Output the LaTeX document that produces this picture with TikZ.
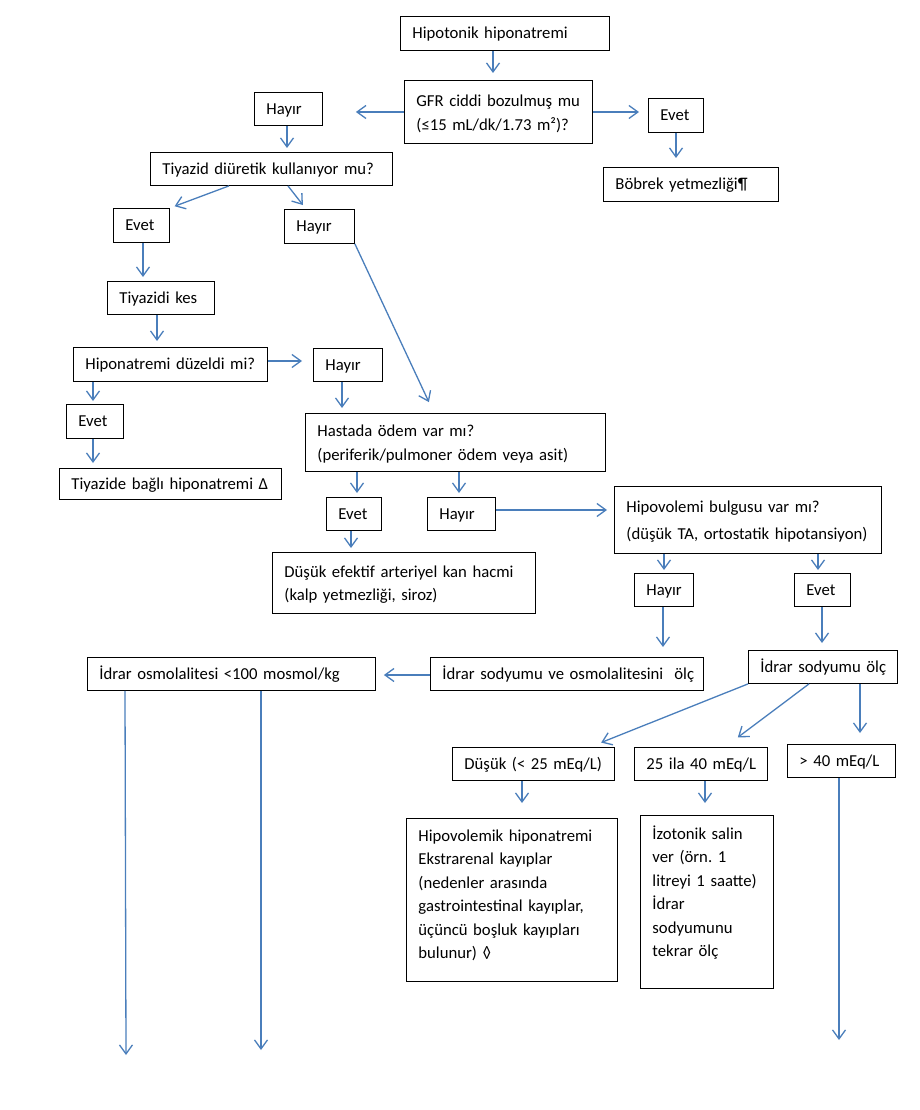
\documentclass[tikz,border=0pt]{standalone}
\usepackage{fontspec}
\setmainfont{Carlito}
\usetikzlibrary{arrows.meta}
\definecolor{arrblue}{RGB}{74,126,187}
\frenchspacing

\begin{document}
\begin{tikzpicture}[
    x=1pt, y=-1pt,
    font=\fontsize{16.7}{23.5}\selectfont,
    arr/.style={draw=arrblue,line width=1.3pt,-{Straight Barb[length=9pt,width=13pt]}},
    box/.style={draw,line width=0.9pt,anchor=north west,align=left,
        inner xsep=12pt,inner ysep=0pt,text height=15pt},
    onebox/.style={box,text depth=4pt,
        execute at begin node={\hbox\bgroup},execute at end node={\egroup}},
    wh/.style 2 args={text width=#1-24pt,minimum height=#2}
]
\useasboundingbox (0,0) rectangle (920,1110);

% GFR
\node[onebox,wh={209pt}{34pt}] (hypo) at (400,16) {Hipotonik hiponatremi};
\node[box,wh={188pt}{63pt}] (gfr) at (404,80) {GFR ciddi bozulmuş mu\\
    (≤15 mL/dk/1.73 m²)?};
\node[onebox,wh={68pt}{33pt}] (hayir1) at (254,92) {Hayır};
\node[onebox,wh={55pt}{34pt}] (evet1) at (648,98) {Evet};
\node[onebox,wh={175pt}{34pt}] (bobrek) at (603,167) {Böbrek yetmezliği¶};

% tiyazid
\node[onebox,wh={242pt}{33pt}] (tiyazid) at (150,152) {Tiyazid diüretik kullanıyor mu?};
\node[onebox,wh={56pt}{34pt}] (evet2) at (113,208) {Evet};
\node[onebox,wh={70pt}{34pt}] (hayir2) at (284,209) {Hayır};
\node[onebox,wh={107pt}{33pt}] (kes) at (107,281) {Tiyazidi kes};
\node[onebox,wh={194pt}{34pt}] (duzeldi) at (73,347) {Hiponatremi düzeldi mi?};
\node[onebox,wh={69pt}{33pt}] (hayir3) at (313,348) {Hayır};
\node[onebox,wh={57pt}{34pt}] (evet3) at (66,404) {Evet};
\node[onebox,wh={222pt}{31pt}] (tiyazide) at (59,468) {Tiyazide bağlı hiponatremi Δ};

% odem
\node[box,wh={300pt}{58pt}] (hastada) at (305,413) {Hastada ödem var mı?\\
    (periferik/pulmoner ödem veya asit)};
\node[onebox,wh={55pt}{33pt}] (evet4) at (326,497) {Evet};
\node[onebox,wh={68pt}{33pt}] (hayir4) at (427,497) {Hayır};
\node[box,wh={263pt}{61pt}] (efektif) at (272,552) {Düşük efektif arteriyel kan hacmi\\
    (kalp yetmezliği, siroz)};

% hipovolemi
\node[box,wh={267pt}{67pt}] (hipovolemi) at (614,486) {Hipovolemi bulgusu var mı?\\[4pt]
    (düşük TA, ortostatik hipotansiyon)};
\node[onebox,wh={59pt}{33pt}] (hayir5) at (634,573) {Hayır};
\node[onebox,wh={56pt}{33pt}] (evet5) at (794,573) {Evet};
\node[onebox,wh={273pt}{33pt}] (osmolc) at (430,657) {İdrar sodyumu ve osmolalitesini~ ölç};
\node[onebox,wh={149pt}{33pt}] (idrarna) at (748,650) {İdrar sodyumu ölç};
\node[onebox,wh={288pt}{33pt}] (osmol) at (87,657) {İdrar osmolalitesi <100 mosmol/kg};

% idrar sodyumu
\node[onebox,wh={162pt}{33pt}] (dusuk) at (452,747) {Düşük (< 25 mEq/L)};
\node[onebox,wh={133pt}{33pt}] (orta) at (634,747) {25 ila 40 mEq/L};
\node[onebox,wh={108pt}{33pt}] (yuksek) at (787,744) {> 40 mEq/L};
\node[box,wh={211pt}{163pt},text depth=132pt] (hipovol) at (406,818) {Hipovolemik hiponatremi\\
    Ekstrarenal kayıplar\\(nedenler arasında\\gastrointestinal kayıplar,\\
    üçüncü boşluk kayıpları\\bulunur) ◊};
\node[box,wh={133pt}{173pt},text depth=140pt] (izotonik) at (640,815) {İzotonik salin\\
    ver (örn. 1\\litreyi 1 saatte)\\İdrar\\sodyumunu\\tekrar ölç};

\coordinate (endA) at (126,1055);
\coordinate (endB) at (261,1050);
\coordinate (endC) at (839,1040);

\draw[arr,shorten >=7pt] (493,0 |- hypo.south) -- (493,0 |- gfr.north);
\draw[arr,shorten >=33pt] (gfr.west |- 0,112) -- (hayir1.east |- 0,112);
\draw[arr,shorten >=9pt] (gfr.east |- 0,112) -- (evet1.west |- 0,112);
\draw[arr,shorten >=9pt] (676,0 |- evet1.south) -- (676,0 |- bobrek.north);
\draw[arr,shorten >=4pt] (287,0 |- hayir1.south) -- (287,0 |- tiyazid.north);
\draw[arr,shorten >=5pt] (229,0 |- tiyazid.south) -- (evet2.north east);
\draw[arr,shorten >=5pt] (288,0 |- tiyazid.south) -- (306,0 |- hayir2.north);
\draw[arr,shorten >=12pt] (hayir2.south east) -- (434,0 |- hastada.north);
\draw[arr,shorten >=4pt] (143,0 |- evet2.south) -- (143,0 |- kes.north);
\draw[arr,shorten >=6pt] (157,0 |- kes.south) -- (157,0 |- duzeldi.north);
\draw[arr,shorten >=11pt] (duzeldi.east |- 0,361) -- (hayir3.west |- 0,361);
\draw[arr,shorten >=5pt] (342,0 |- hayir3.south) -- (342,0 |- hastada.north);
\draw[arr,shorten >=3pt] (93,0 |- duzeldi.south) -- (93,0 |- evet3.north);
\draw[arr,shorten >=5pt] (93,0 |- evet3.south) -- (93,0 |- tiyazide.north);
\draw[arr,shorten >=4pt] (357,0 |- hastada.south) -- (357,0 |- evet4.north);
\draw[arr,shorten >=4pt] (459,0 |- hastada.south) -- (459,0 |- hayir4.north);
\draw[arr,shorten >=4pt] (351,0 |- evet4.south) -- (351,0 |- efektif.north);
\draw[arr,shorten >=7pt] (hayir4.east |- 0,510) -- (hipovolemi.west |- 0,510);
\draw[arr,shorten >=3pt] (664,0 |- hipovolemi.south) -- (664,0 |- hayir5.north);
\draw[arr,shorten >=3pt] (818,0 |- hipovolemi.south) -- (818,0 |- evet5.north);
\draw[arr,shorten >=10pt] (663,0 |- hayir5.south) -- (663,0 |- osmolc.north);
\draw[arr,shorten >=7pt] (822,0 |- evet5.south) -- (822,0 |- idrarna.north);
\draw[arr,shorten >=8pt] (osmolc.west |- 0,675) -- (osmol.east |- 0,675);
\draw[arr] (125,0 |- osmol.south) -- (endA);
\draw[arr] (261,0 |- osmol.south) -- (endB);
\draw[arr,shorten >=12pt] (idrarna.south west) -- (590,0 |- dusuk.north);
\draw[arr,shorten >=16pt] (809,0 |- idrarna.south) -- (725,0 |- orta.north);
\draw[arr,shorten >=11pt] (860,0 |- idrarna.south) -- (860,0 |- yuksek.north);
\draw[arr,shorten >=15pt] (522,0 |- dusuk.south) -- (522,0 |- hipovol.north);
\draw[arr,shorten >=12pt] (705,0 |- orta.south) -- (705,0 |- izotonik.north);
\draw[arr] (839,0 |- yuksek.south) -- (endC);

\end{tikzpicture}
\end{document}
